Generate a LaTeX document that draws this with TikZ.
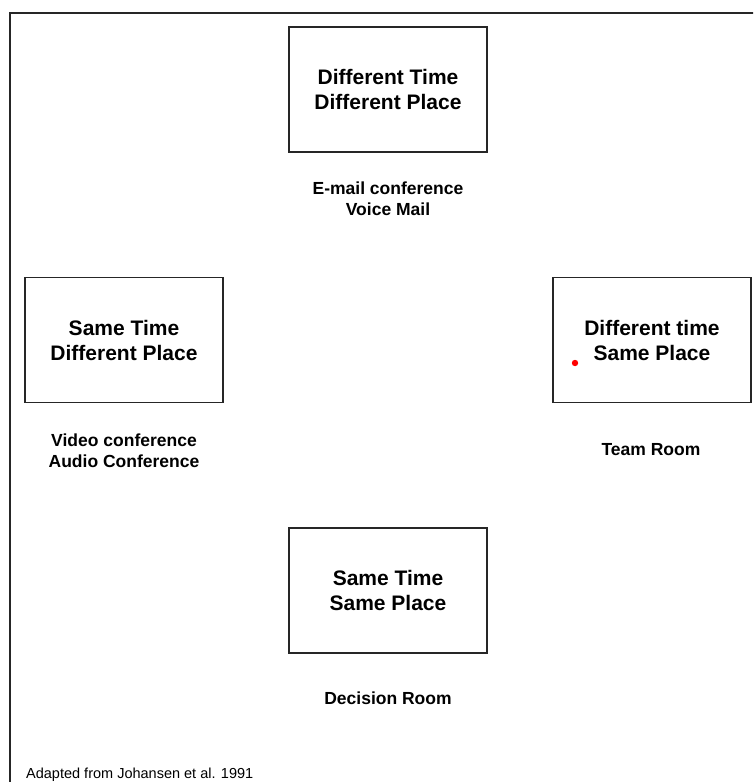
\documentclass[tikz,border=0pt]{standalone}
\usepackage{fontspec}
\setmainfont{Liberation Sans}
\tikzset{
  quadrant/.style={draw=black!85, line width=1.8pt, minimum width=198pt, minimum height=125pt,
    align=center, inner sep=0pt, font=\fontsize{21}{25}\selectfont\bfseries},
  usage/.style={align=center, inner sep=0pt, font=\fontsize{17.5}{21}\selectfont\bfseries}
}
\begin{document}
\begin{tikzpicture}[x=1pt,y=-1pt]
                \useasboundingbox (0,0) rectangle (753,782);
                \clip (0,0) rectangle (753,782);
                %Frame
                \draw[draw=black!85, line width=1.8pt] (10,13) rectangle (800,830);

                %Nodes
                \node[quadrant] at (388,89.5) (dtdp) {Different Time\\Different Place};
                \node[quadrant] at (124,340) (stdp) {Same Time\\Different Place};
                \node[quadrant] at (652,340) (dtsp) {Different time\\Same Place};
                \node[quadrant] at (388,590.5) (stsp) {Same Time\\Same Place};

                \node[usage] at (388,199) (email) {E-mail conference\\Voice Mail};
                \node[usage] at (124,451) (video) {Video conference\\Audio Conference};
                \node[usage] at (651,450) (team) {Team Room};
                \node[usage] at (388,698) (decision) {Decision Room};

                \node[anchor=west, inner sep=0pt, font=\fontsize{14.5}{17}\selectfont] at (26,775) (source) {Adapted from Johansen et al. 1991};

                %Dot
                \fill[red] (575,363) circle (3.2pt);
\end{tikzpicture}
\end{document}
